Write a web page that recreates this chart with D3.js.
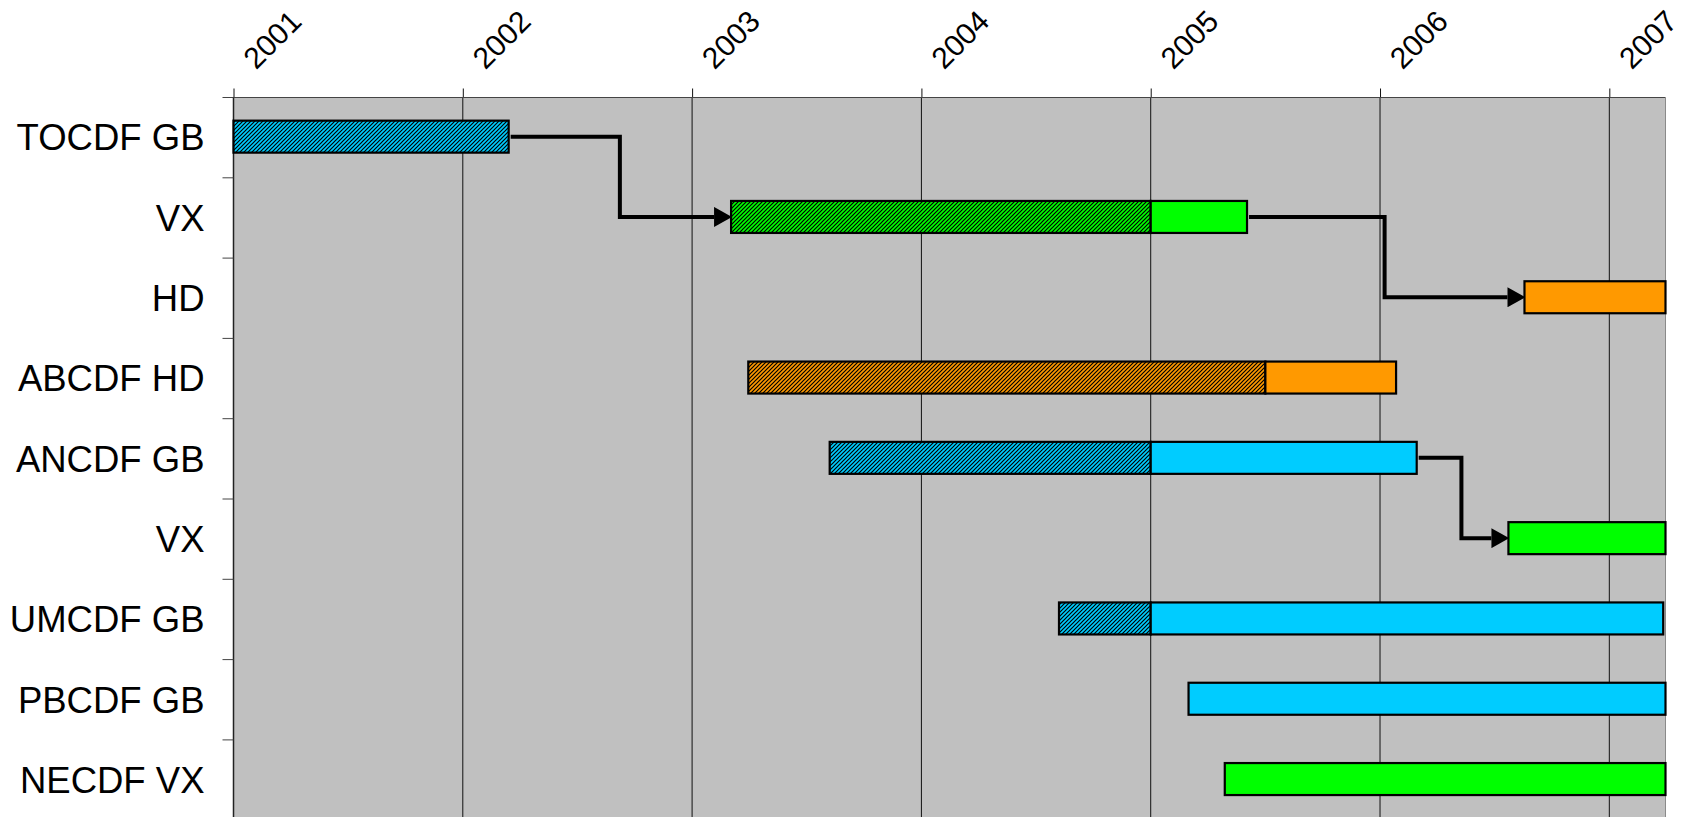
<!DOCTYPE html>
<html>
<head>
<meta charset="utf-8">
<script src="https://cdn.jsdelivr.net/npm/d3@7"></script>
<style>
  body { margin: 0; background: #fff; }
  svg { display: block; }
</style>
</head>
<body>
<script>
// rows, top to bottom
var rows = ["TOCDF GB", "VX", "HD", "ABCDF HD", "ANCDF GB", "VX", "UMCDF GB", "PBCDF GB", "NECDF VX"];
var years = [2001, 2002, 2003, 2004, 2005, 2006, 2007];
var rowColor = ["blue", "green", "orange", "orange", "blue", "green", "blue", "blue", "green"];

// hatched part of each bar (null = none)
var hatchStart = [2001.0, 2003.17, null, 2003.245, 2003.6, null, 2004.6, null, null];
var hatchEnd   = [2002.2, 2005.0, null, 2005.5, 2005.0, null, 2005.0, null, null];
// solid part of each bar
var solidStart = [null, 2005.0, 2006.63, 2005.5, 2005.0, 2006.56, 2005.0, 2005.165, 2005.323];
var solidEnd   = [null, 2005.42, 2007.245, 2006.07, 2006.16, 2007.245, 2007.235, 2007.245, 2007.245];

// connectors: from row, to row, x of the elbow
var linkFrom  = [0, 1, 4];
var linkTo    = [1, 2, 5];
var linkElbow = [2002.685, 2006.02, 2006.355];

var W = 1687, H = 817,
    plot = {left: 233.5, right: 1665.5, top: 97.5, step: 80.3},
    barH = 32,
    font = {family: "'Liberation Sans', Arial, sans-serif", row: "36.5px", year: "30px"},
    col = {blue: "#00CCFF", green: "#00FF00", orange: "#FF9900", bg: "#C0C0C0"};

var svg = d3.select("body").append("svg")
    .attr("width", W)
    .attr("height", H);

var x = d3.scaleLinear()
    .domain([2001, 2007.245])
    .range([plot.left, plot.right]);

var y = d3.scaleBand()
    .domain(d3.range(rows.length))
    .range([plot.top, plot.top + plot.step * rows.length]);

var bottom = y.range()[1];

// hatch patterns
var defs = svg.append("defs");
["blue", "green", "orange"].forEach(function(c) {
    var p = defs.append("pattern")
        .attr("id", "hatch-" + c)
        .attr("patternUnits", "userSpaceOnUse")
        .attr("width", 4)
        .attr("height", 4);
    p.append("rect").attr("width", 4).attr("height", 4).attr("fill", col[c]);
    p.append("path")
        .attr("d", "M-1,1 l2,-2 M0,4 l4,-4 M3,5 l2,-2")
        .attr("stroke", "#000")
        .attr("stroke-width", 1.2);
});

defs.append("marker")
    .attr("id", "arrow")
    .attr("markerUnits", "userSpaceOnUse")
    .attr("markerWidth", 18)
    .attr("markerHeight", 20)
    .attr("viewBox", "0 -9.5 17 19")
    .attr("refX", 0)
    .attr("refY", 0)
    .attr("orient", "auto")
    .append("path")
        .attr("d", "M0,-9.5 L17,0 L0,9.5 Z")
        .attr("fill", "#000");

// plot background
svg.append("rect")
    .attr("x", plot.left)
    .attr("y", plot.top)
    .attr("width", plot.right - plot.left)
    .attr("height", bottom - plot.top)
    .attr("fill", col.bg);

// vertical gridlines
svg.append("g").selectAll("line")
    .data(years)
    .enter()
    .append("line")
        .attr("x1", function(d) { return x(d); })
        .attr("x2", function(d) { return x(d); })
        .attr("y1", plot.top)
        .attr("y2", bottom)
        .attr("stroke", "#111")
        .attr("stroke-width", 1);

// top axis
var xAxis = svg.append("g")
    .attr("transform", "translate(0," + plot.top + ")")
    .call(d3.axisTop(x).tickValues(years).tickSize(9).tickFormat(d3.format("d")));
xAxis.select(".domain").remove();
xAxis.selectAll(".tick line").attr("stroke", "#111");
xAxis.selectAll(".tick text")
    .attr("font-family", font.family)
    .attr("font-size", font.year)
    .attr("fill", "#000")
    .attr("text-anchor", "start")
    .attr("transform", "translate(22,-27) rotate(-45)")
    .attr("x", 0)
    .attr("y", 0)
    .attr("dy", 0);

// plot borders
svg.append("line")
    .attr("x1", plot.left - 11).attr("x2", plot.right)
    .attr("y1", plot.top).attr("y2", plot.top)
    .attr("stroke", "#444");
svg.append("line")
    .attr("x1", plot.right).attr("x2", plot.right)
    .attr("y1", plot.top).attr("y2", bottom)
    .attr("stroke", "#8a8a8a");
svg.append("line")
    .attr("x1", plot.left).attr("x2", plot.left)
    .attr("y1", plot.top).attr("y2", bottom)
    .attr("stroke", "#222")
    .attr("stroke-width", 1.5);

// left ticks between rows
svg.append("g").selectAll("line")
    .data(d3.range(1, rows.length))
    .enter()
    .append("line")
        .attr("x1", plot.left - 11)
        .attr("x2", plot.left)
        .attr("y1", function(d) { return y(d); })
        .attr("y2", function(d) { return y(d); })
        .attr("stroke", "#444");

// row labels
svg.append("g").selectAll("text")
    .data(rows)
    .enter()
    .append("text")
        .attr("x", plot.left - 29)
        .attr("y", function(d, i) { return y(i) + y.bandwidth() / 2; })
        .attr("dy", "0.35em")
        .attr("text-anchor", "end")
        .attr("font-family", font.family)
        .attr("font-size", font.row)
        .attr("fill", "#000")
        .text(function(d) { return d; });

function barY(i) { return y(i) + y.bandwidth() / 2 - 1 - barH / 2; }

// bars
var bars = svg.append("g");
rows.forEach(function(r, i) {
    if (hatchStart[i] != null) {
        bars.append("rect")
            .attr("x", x(hatchStart[i]))
            .attr("y", barY(i))
            .attr("width", x(hatchEnd[i]) - x(hatchStart[i]))
            .attr("height", barH)
            .attr("fill", "url(#hatch-" + rowColor[i] + ")")
            .attr("stroke", "#000")
            .attr("stroke-width", 2.2);
    }
    if (solidStart[i] != null) {
        bars.append("rect")
            .attr("x", x(solidStart[i]))
            .attr("y", barY(i))
            .attr("width", x(solidEnd[i]) - x(solidStart[i]))
            .attr("height", barH)
            .attr("fill", col[rowColor[i]])
            .attr("stroke", "#000")
            .attr("stroke-width", 2.2);
    }
});

// connectors
function barEnd(i) { return solidEnd[i] != null ? solidEnd[i] : hatchEnd[i]; }
function barStart(i) { return hatchStart[i] != null ? hatchStart[i] : solidStart[i]; }
function mid(i) { return barY(i) + barH / 2; }

svg.append("g").selectAll("path")
    .data(linkFrom)
    .enter()
    .append("path")
        .attr("d", function(d, k) {
            var t = linkTo[k];
            return "M" + (x(barEnd(d)) + 2) + "," + mid(d) +
                "H" + x(linkElbow[k]) +
                "V" + mid(t) +
                "H" + (x(barStart(t)) - 17);
        })
        .attr("fill", "none")
        .attr("stroke", "#000")
        .attr("stroke-width", 4)
        .attr("stroke-linejoin", "miter")
        .attr("marker-end", "url(#arrow)");
</script>
</body>
</html>
